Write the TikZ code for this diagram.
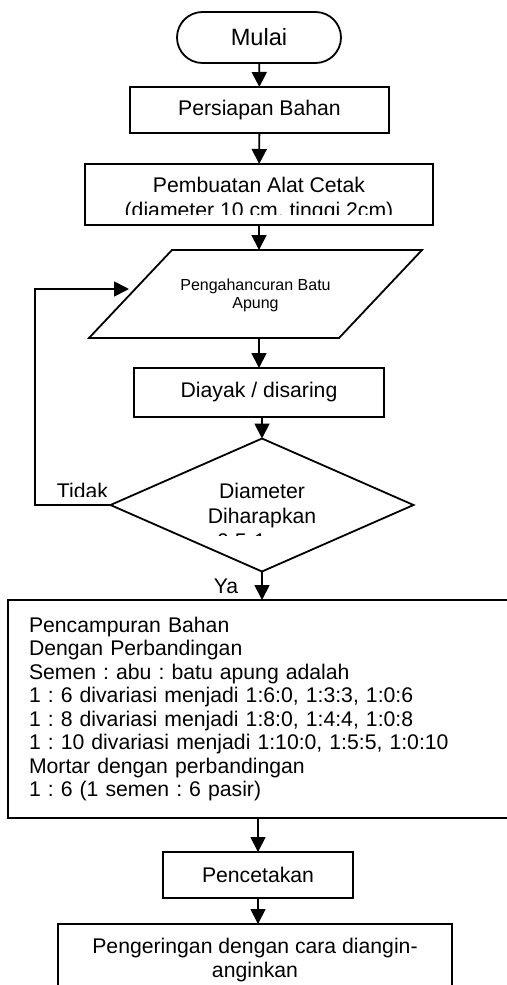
\documentclass[tikz,border=0pt]{standalone}
\usepackage{fontspec}
\setmainfont{Liberation Sans}
\usetikzlibrary{shapes.misc,shapes.geometric,arrows.meta}
\frenchspacing

\begin{document}
\begin{tikzpicture}[x=0.5pt,y=-0.5pt,
  every node/.style={inner sep=0pt,outer sep=0pt,font=\fontsize{10.6pt}{12.5pt}\selectfont},
  box/.style={draw,line width=0.9pt,rectangle},
  arrow/.style={line width=0.9pt,-{Triangle[width=7.5pt,length=7.5pt]}}]
\useasboundingbox (0,0) rectangle (507,985);
\clip (0,0) rectangle (507,985);
\node[box,rounded rectangle,minimum width=82pt,minimum height=25.5pt,
  font=\fontsize{11.8pt}{14pt}\selectfont](mulai) at (259,37.5){Mulai};
\node[box,minimum width=129.5pt,minimum height=23pt](persiapan) at (259.5,110){Persiapan Bahan};
\node[box,minimum width=174pt,minimum height=30.5pt](pembuatan) at (259,194.5){};
\begin{scope}
\clip (0,164) rectangle (507,214);
\node[align=center](pembuatantxt) at (259,200){Pembuatan Alat Cetak\\(diameter 10 cm, tinggi 2cm)};
\end{scope}
% jajaran genjang
\draw[line width=0.9pt] (172,250) coordinate (batuatas) -- (422,250) -- (339,338)
  -- (89,338) coordinate (batubawah) -- cycle;
\node[align=center,font=\fontsize{8pt}{9pt}\selectfont](batu) at (255.5,295){Pengahancuran Batu\\Apung};
\node[box,minimum width=125pt,minimum height=24.5pt](diayak) at (259,392.5){Diayak / disaring};
\node[draw,diamond,line width=0.9pt,minimum width=151.5pt,minimum height=66.5pt](cek) at (262,505){};
\begin{scope}
\clip (0,440) rectangle (507,535);
\node[align=center](cektxt) at (262,517){Diameter\\Diharapkan\\0,5-1 mm};
\end{scope}
\begin{scope}
\clip (0,470) rectangle (120,496);
\node(tidak) at (82.5,490.5){Tidak};
\end{scope}
\begin{scope}
\clip (200,570) rectangle (250,593);
\node(ya) at (226,586.5){Ya};
\end{scope}
\node[box,minimum width=256pt,minimum height=109pt,text width=235pt,align=left,
  font=\fontsize{10.6pt}{11.75pt}\selectfont](campur) at (264,709){Pencampuran Bahan\\
Dengan Perbandingan\\
Semen : abu : batu apung adalah\\
1 : 6 divariasi menjadi 1:6:0, 1:3:3, 1:0:6\\
1 : 8 divariasi menjadi 1:8:0, 1:4:4, 1:0:8\\
1 : 10 divariasi menjadi 1:10:0, 1:5:5, 1:0:10\\
Mortar dengan perbandingan\\
1 : 6 (1 semen : 6 pasir)};
\node[box,minimum width=95pt,minimum height=23pt](cetak) at (258,875){Pencetakan};
\node[box,minimum width=197pt,minimum height=36pt,align=center,
  font=\fontsize{10.6pt}{12pt}\selectfont](kering) at (255,960){Pengeringan dengan cara diangin-\\anginkan};
\coordinate (kiri) at (35,505);
\coordinate (masuk) at (129,289);
\draw[arrow] (mulai) -- (persiapan);
\draw[arrow] (persiapan) -- (pembuatan);
\draw[arrow] (pembuatan) -- (pembuatan |- batuatas);
\draw[arrow] (diayak.north |- batubawah) -- (diayak);
\draw[arrow] (cek.north |- diayak.south) -- (cek);
\draw[arrow] (cek.west) -- (kiri) |- (masuk);
\draw[arrow] (cek.south) -- (cek.south |- campur.north);
\draw[arrow] (cetak.north |- campur.south) -- (cetak);
\draw[arrow] (cetak) -- (cetak |- kering.north);
\end{tikzpicture}
\end{document}
